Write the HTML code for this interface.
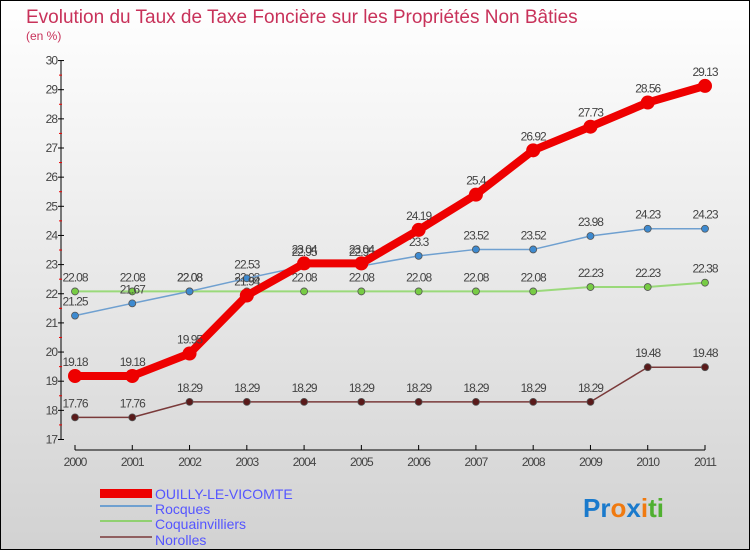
<!DOCTYPE html>
<html><head><meta charset="utf-8"><style>
body{margin:0}
#c{width:750px;height:550px;position:relative;overflow:hidden}
text{font-family:"Liberation Sans",sans-serif}
</style></head><body>
<div id="c">
<svg id="s" width="750" height="550" xmlns="http://www.w3.org/2000/svg">
<defs><linearGradient id="bg" x1="0" y1="0" x2="0" y2="1"><stop offset="0" stop-color="#ffffff"/><stop offset="1" stop-color="#d2d2d2"/></linearGradient></defs>
<rect x="0.5" y="0.5" width="749" height="549" fill="url(#bg)" stroke="#000"/>
<text x="26" y="23" font-size="19" fill="#c8325a">Evolution du Taux de Taxe Foncière sur les Propriétés Non Bâties</text>
<text x="26" y="40" font-size="12" fill="#c8325a">(en %)</text>
<g id="axes"></g><g id="series"></g>
<g>
<rect x="100" y="489" width="52" height="9" fill="#e00"/>
<text x="155" y="499" font-size="14" fill="#5555ff">OUILLY-LE-VICOMTE</text>
<rect x="100" y="505" width="52" height="2" fill="#6fa0d0"/>
<text x="155" y="514" font-size="14" fill="#5555ff">Rocques</text>
<rect x="100" y="520" width="52" height="2" fill="#90d070"/>
<text x="155" y="529" font-size="14" fill="#5555ff">Coquainvilliers</text>
<rect x="100" y="536" width="52" height="2" fill="#906060"/>
<text x="155" y="545" font-size="14" fill="#5555ff">Norolles</text>
</g>
<text x="583" y="517" font-size="26" font-weight="bold"><tspan fill="#1a7acc">Pr</tspan><tspan fill="#f07a10">o</tspan><tspan fill="#1a7acc">x</tspan><tspan fill="#f07a10">i</tspan><tspan fill="#50b030">ti</tspan></text>
</svg></div>
<script>
const years=[2000,2001,2002,2003,2004,2005,2006,2007,2008,2009,2010,2011];
const yTicks=[17,18,19,20,21,22,23,24,25,26,27,28,29,30];
const ouilly=[19.18,19.18,19.95,21.94,23.04,23.04,24.19,25.4,26.92,27.73,28.56,29.13];
const rocques=[21.25,21.67,22.08,22.53,22.95,22.95,23.3,23.52,23.52,23.98,24.23,24.23];
const coquainvilliers=[22.08,22.08,22.08,22.08,22.08,22.08,22.08,22.08,22.08,22.23,22.23,22.38];
const norolles=[17.76,17.76,18.29,18.29,18.29,18.29,18.29,18.29,18.29,18.29,19.48,19.48];
const NS="http://www.w3.org/2000/svg";
const X=i=>75+i*(630/11);
const Y=v=>439.5-(v-17)*29.15;
function mk(p,t,a){const e=document.createElementNS(NS,t);for(const k in a)e.setAttribute(k,a[k]);p.appendChild(e);return e;}
const ax=document.getElementById('axes');
let l=mk(ax,'line',{x1:61,y1:Y(30),x2:61,y2:Y(17),stroke:'#000'});


yTicks.forEach(v=>{
 mk(ax,'line',{x1:58,y1:Y(v),x2:64,y2:Y(v),stroke:'#000'});
 if(v<30)mk(ax,'line',{x1:59,y1:Y(v+0.5),x2:62,y2:Y(v+0.5),stroke:'#e00'});
 const t=mk(ax,'text',{x:57,y:Y(v)+4,'font-size':12,'text-anchor':'end',fill:'#444','letter-spacing':'-1'});
 t.textContent=v;
 
 
});
l=mk(ax,'line',{x1:75,y1:450,x2:705,y2:450,stroke:'#000'});


years.forEach((y,i)=>{
 mk(ax,'line',{x1:X(i),y1:445,x2:X(i),y2:450,stroke:'#000'});
 const t=mk(ax,'text',{x:X(i),y:466,'font-size':12,'text-anchor':'middle',fill:'#444','letter-spacing':'-1'});
 t.textContent=y;
 
 
});
const sg=document.getElementById('series');
function series(name,data,color,w,r,dot){
 const g=mk(sg,'g',{});
 
 
 const p=mk(g,'polyline',{points:data.map((v,i)=>X(i)+','+Y(v)).join(' '),fill:'none',stroke:color,'stroke-width':w,'stroke-linejoin':'round'});
 
 
 data.forEach((v,i)=>{
  const c=mk(g,'circle',{cx:X(i),cy:Y(v),r:r,fill:dot,stroke:'#555','stroke-width':r>5?0:0.8});
  
  
  const t=mk(g,'text',{x:X(i),y:Y(v)-10,'font-size':12,'text-anchor':'middle',fill:'#444','letter-spacing':'-1'});
  t.textContent=v;
  
  
 });
}
series('coquainvilliers',coquainvilliers,'#9ad97a',2,3.5,'#77cc44');
series('rocques',rocques,'#6fa0d0',1.5,3.5,'#3d8ad0');
series('norolles',norolles,'#7a3a3a',1.5,3.5,'#5a1a1a');
series('ouilly',ouilly,'#ee0000',8,7,'#ee0000');
</script>
</body></html>
